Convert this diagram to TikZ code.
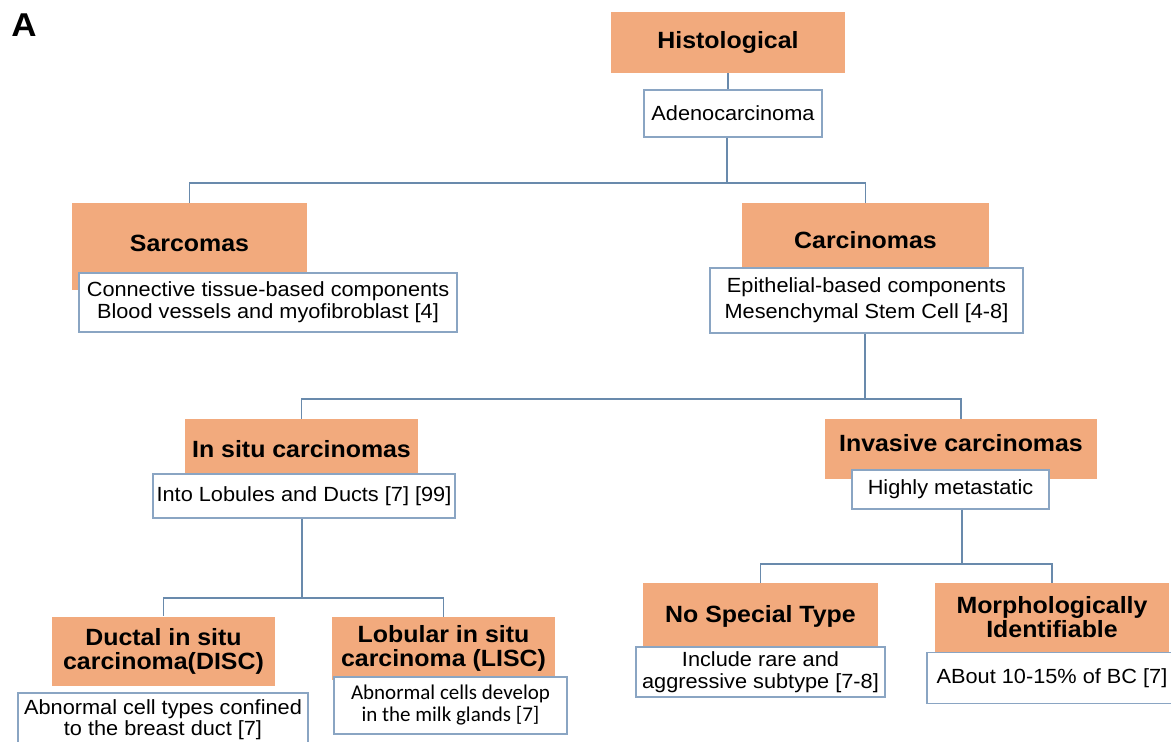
\documentclass[tikz,border=0pt]{standalone}
\usepackage{fontspec}
\setmainfont[FakeStretch=1.06]{Liberation Sans}
\newfontfamily\calibfont{Carlito}
\usepackage{tikz}
\usetikzlibrary{positioning,calc}

\definecolor{boxorange}{RGB}{242,170,125}
\definecolor{linkblue}{RGB}{105,138,172}
\definecolor{edgeblue}{RGB}{138,165,195}

\tikzset{
  head/.style={fill=boxorange,inner sep=0pt,align=center,
    font=\fontsize{23.5}{24}\selectfont\bfseries},
  note/.style={draw=edgeblue,line width=1.4pt,fill=white,inner sep=0pt,align=center,
    font=\fontsize{20.5}{22}\selectfont},
  link/.style={draw=linkblue,line width=1.8pt}
}

\begin{document}
\begin{tikzpicture}[x=1pt,y=-1pt]
\useasboundingbox (0,0) rectangle (1171,742);
\node[font=\fontsize{33}{33}\selectfont\bfseries] (panel) at (24,25) {A};

  \node[head,minimum width=234pt,minimum height=61pt] (histo) at (728,42.5) {Histological};
  \node[note,minimum width=178pt,minimum height=47pt] (adeno) at (733,113.5) {Adenocarcinoma};

  \node[head,minimum width=235pt,minimum height=87pt,text height=17pt,text depth=7pt] (sarc) at (189.5,246.5) {Sarcomas};
  \node[note,minimum width=378pt,minimum height=59pt] (sarcnote) at (268,302.5) {Connective tissue-based components\\ Blood vessels and myofibroblast [4]};

  \node[head,minimum width=247pt,minimum height=75pt] (carc) at (865.5,240.5) {Carcinomas};
  \node[note,minimum width=313pt,minimum height=65pt] (carcnote) at (866.5,300.5) {Epithelial-based components\\[4pt] Mesenchymal Stem Cell [4-8]};

  \node[head,minimum width=233pt,minimum height=61pt] (insitu) at (301.5,449.5) {In situ carcinomas};
  \node[note,minimum width=302pt,minimum height=44pt] (insitunote) at (304,496) {Into Lobules and Ducts [7] [99]};

  \node[head,minimum width=272pt,minimum height=60pt,text height=17pt,text depth=12pt] (inv) at (961,449) {Invasive carcinomas};
  \node[note,minimum width=197pt,minimum height=39pt] (invnote) at (950.5,489.5) {Highly metastatic};

  \node[head,minimum width=223pt,minimum height=69pt] (ductal) at (163.5,651) {Ductal in situ\\ carcinoma(DISC)};
  \node[note,minimum width=290pt,minimum height=53pt] (ductalnote) at (163,719.5) {Abnormal cell types confined\\[-1.5pt] to the breast duct [7]};

  \node[head,minimum width=223pt,minimum height=63pt] (lob) at (443.5,648.5) {Lobular in situ\\ carcinoma (LISC)};
  \node[note,minimum width=233pt,minimum height=57pt,font=\calibfont\fontsize{21}{22}\selectfont] (lobnote) at (450.5,705.5) {Abnormal cells develop\\ in the milk glands [7]};

  \node[head,minimum width=235pt,minimum height=67pt] (nst) at (760.5,616.5) {No Special Type};
  \node[note,minimum width=249pt,minimum height=50pt] (nstnote) at (760.5,672) {Include rare and\\ aggressive subtype [7-8]};

  \node[head,minimum width=234pt,minimum height=69pt] (morph) at (1052,617.5) {Morphologically\\ Identifiable};
  \node[note,minimum width=250pt,minimum height=51pt] (morphnote) at (1052,678) {ABout 10-15\% of BC [7]};

  \coordinate (b1) at (727,183);
  \coordinate (b2) at (865,399);
  \coordinate (b3) at (302,598);
  \coordinate (b4) at (962,564);

  \draw[link] (histo.south) -- (histo.south |- adeno.north);
  \draw[link] (b1 |- adeno.south) -- (b1) -| (sarc.north);
  \draw[link] (b1) -| (carc.north);
  \draw[link] (b2 |- carcnote.south) -- (b2) -| (insitu.north);
  \draw[link] (b2) -| (inv.north);
  \draw[link] (b3 |- insitunote.south) -- (b3) -| (ductal.north);
  \draw[link] (b3) -| (lob.north);
  \draw[link] (b4 |- invnote.south) -- (b4) -| (nst.north);
  \draw[link] (b4) -| (morph.north);
\end{tikzpicture}
\end{document}
